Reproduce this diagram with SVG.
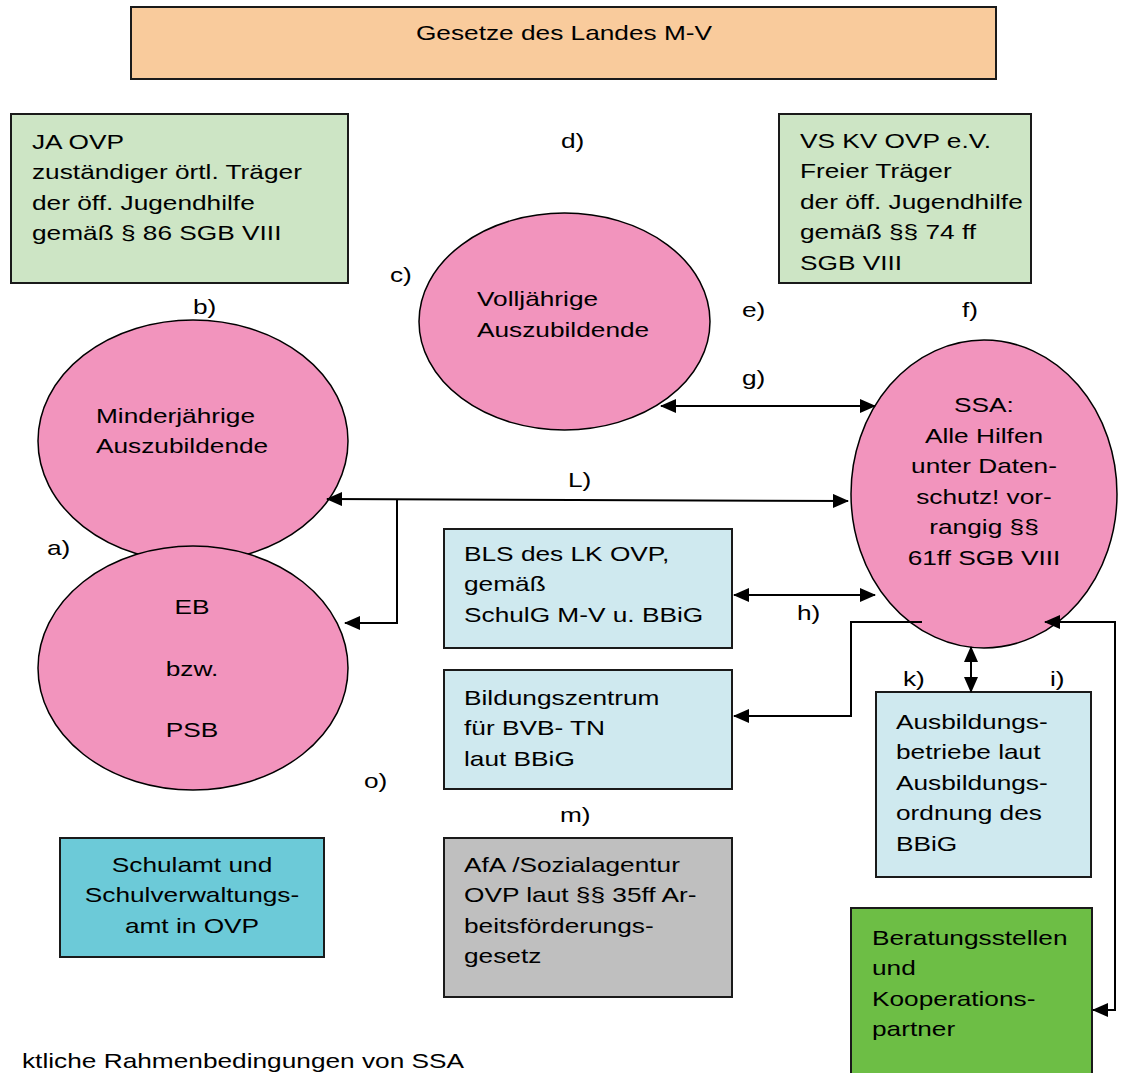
<svg xmlns="http://www.w3.org/2000/svg" width="1123" height="1073" viewBox="0 0 1123 1073">
<style>
text{font-family:"Liberation Sans",Arial,sans-serif;font-size:21px;fill:#000}
.box{stroke:#1a1a1a;stroke-width:2}
.ell{fill:#F294BD;stroke:#000;stroke-width:1.5}
.con{fill:none;stroke:#000;stroke-width:2}
.mid{text-anchor:middle}
</style>
<defs>
<marker id="ah" markerUnits="userSpaceOnUse" markerWidth="16" markerHeight="14" refX="15" refY="7" orient="auto-start-reverse">
<path d="M0,0 L16,7 L0,14 z" fill="#000"/>
</marker>
</defs>
<rect width="1123" height="1073" fill="#fff"/>

<g id="gesetze">
<rect class="box" x="131" y="7" width="865" height="72" fill="#F9CB9C"/>
<text class="mid" transform="translate(564,40) scale(1.25,1)">Gesetze des Landes M-V</text>
</g>

<g id="ja">
<rect class="box" x="11" y="114" width="337" height="169" fill="#CDE5C5"/>
<text transform="translate(32,0) scale(1.25,1)"><tspan x="0" y="149">JA OVP</tspan><tspan x="0" y="179.5">zuständiger örtl. Träger</tspan><tspan x="0" y="210">der öff. Jugendhilfe</tspan><tspan x="0" y="240.5">gemäß § 86 SGB VIII</tspan></text>
</g>

<g id="vs">
<rect class="box" x="779" y="114" width="252" height="169" fill="#CDE5C5"/>
<text transform="translate(800,0) scale(1.25,1)"><tspan x="0" y="148">VS KV OVP e.V.</tspan><tspan x="0" y="178.5">Freier Träger</tspan><tspan x="0" y="209">der öff. Jugendhilfe</tspan><tspan x="0" y="239.5">gemäß §§ 74 ff</tspan><tspan x="0" y="270">SGB VIII</tspan></text>
</g>

<g id="volljaehrige">
<ellipse class="ell" cx="564.5" cy="321.5" rx="145.5" ry="108.5"/>
<text transform="translate(477,0) scale(1.25,1)"><tspan x="0" y="306">Volljährige</tspan><tspan x="0" y="337">Auszubildende</tspan></text>
</g>

<g id="minderjaehrige">
<ellipse class="ell" cx="193" cy="441" rx="155" ry="121"/>
<text transform="translate(96,0) scale(1.25,1)"><tspan x="0" y="423">Minderjährige</tspan><tspan x="0" y="453">Auszubildende</tspan></text>
</g>

<g id="eb">
<ellipse class="ell" cx="193" cy="668" rx="155" ry="122"/>
<text class="mid" transform="translate(192,0) scale(1.25,1)"><tspan x="0" y="614">EB</tspan><tspan x="0" y="676">bzw.</tspan><tspan x="0" y="737">PSB</tspan></text>
</g>

<g id="ssa">
<ellipse class="ell" cx="984" cy="494" rx="133" ry="154"/>
<text class="mid" transform="translate(984,0) scale(1.25,1)"><tspan x="0" y="412.5">SSA:</tspan><tspan x="0" y="443">Alle Hilfen</tspan><tspan x="0" y="473.5">unter Daten-</tspan><tspan x="0" y="504">schutz! vor-</tspan><tspan x="0" y="534.5">rangig §§</tspan><tspan x="0" y="565">61ff SGB VIII</tspan></text>
</g>

<g id="bls">
<rect class="box" x="444" y="529" width="288" height="119" fill="#CFE9EF"/>
<text transform="translate(464,0) scale(1.25,1)"><tspan x="0" y="561">BLS des LK OVP,</tspan><tspan x="0" y="591.5">gemäß</tspan><tspan x="0" y="622">SchulG M-V u. BBiG</tspan></text>
</g>

<g id="bildungszentrum">
<rect class="box" x="444" y="670" width="288" height="119" fill="#CFE9EF"/>
<text transform="translate(464,0) scale(1.25,1)"><tspan x="0" y="705">Bildungszentrum</tspan><tspan x="0" y="735.5">für BVB- TN</tspan><tspan x="0" y="766">laut BBiG</tspan></text>
</g>

<g id="ausbildungsbetriebe">
<rect class="box" x="876" y="692" width="215" height="185" fill="#CFE9EF"/>
<text transform="translate(896,0) scale(1.25,1)"><tspan x="0" y="729">Ausbildungs-</tspan><tspan x="0" y="759.5">betriebe laut</tspan><tspan x="0" y="790">Ausbildungs-</tspan><tspan x="0" y="820.5">ordnung des</tspan><tspan x="0" y="851">BBiG</tspan></text>
</g>

<g id="schulamt">
<rect class="box" x="60" y="838" width="264" height="119" fill="#6CCAD8"/>
<text class="mid" transform="translate(192,0) scale(1.25,1)"><tspan x="0" y="872">Schulamt und</tspan><tspan x="0" y="902.5">Schulverwaltungs-</tspan><tspan x="0" y="933">amt in OVP</tspan></text>
</g>

<g id="afa">
<rect class="box" x="444" y="838" width="288" height="159" fill="#BFBFBF"/>
<text transform="translate(464,0) scale(1.25,1)"><tspan x="0" y="872">AfA /Sozialagentur</tspan><tspan x="0" y="902.5">OVP laut §§ 35ff Ar-</tspan><tspan x="0" y="933">beitsförderungs-</tspan><tspan x="0" y="963.5">gesetz</tspan></text>
</g>

<g id="beratung">
<rect class="box" x="851" y="908" width="241" height="175" fill="#6DBE45"/>
<text transform="translate(872,0) scale(1.25,1)"><tspan x="0" y="945">Beratungsstellen</tspan><tspan x="0" y="975.5">und</tspan><tspan x="0" y="1006">Kooperations-</tspan><tspan x="0" y="1036.5">partner</tspan></text>
</g>

<g id="connectors">
<line class="con" x1="661" y1="406" x2="875" y2="406" marker-start="url(#ah)" marker-end="url(#ah)"/>
<line class="con" x1="327" y1="499" x2="848" y2="501" marker-start="url(#ah)" marker-end="url(#ah)"/>
<polyline class="con" points="397,499.5 397,623 345,623" marker-end="url(#ah)"/>
<line class="con" x1="734" y1="595" x2="875" y2="595" marker-start="url(#ah)" marker-end="url(#ah)"/>
<polyline class="con" points="922,622 851,622 851,716 734,716" marker-end="url(#ah)"/>
<line class="con" x1="971" y1="647" x2="971" y2="692" marker-start="url(#ah)" marker-end="url(#ah)"/>
<polyline class="con" points="1045,622 1115,622 1115,1010 1093,1010" marker-start="url(#ah)" marker-end="url(#ah)"/>
</g>

<g id="labels">
<text transform="translate(561,148) scale(1.25,1)">d)</text>
<text transform="translate(193,314) scale(1.25,1)">b)</text>
<text transform="translate(390,282) scale(1.25,1)">c)</text>
<text transform="translate(742,317) scale(1.25,1)">e)</text>
<text transform="translate(962,317) scale(1.25,1)">f)</text>
<text transform="translate(742,385) scale(1.25,1)">g)</text>
<text transform="translate(568,487) scale(1.25,1)">L)</text>
<text transform="translate(47,555) scale(1.25,1)">a)</text>
<text transform="translate(797,620) scale(1.25,1)">h)</text>
<text transform="translate(903,686) scale(1.25,1)">k)</text>
<text transform="translate(1050,686) scale(1.25,1)">i)</text>
<text transform="translate(364,788) scale(1.25,1)">o)</text>
<text transform="translate(560,822) scale(1.25,1)">m)</text>
<text transform="translate(22,1068) scale(1.25,1)">ktliche Rahmenbedingungen von SSA</text>
</g>
</svg>
